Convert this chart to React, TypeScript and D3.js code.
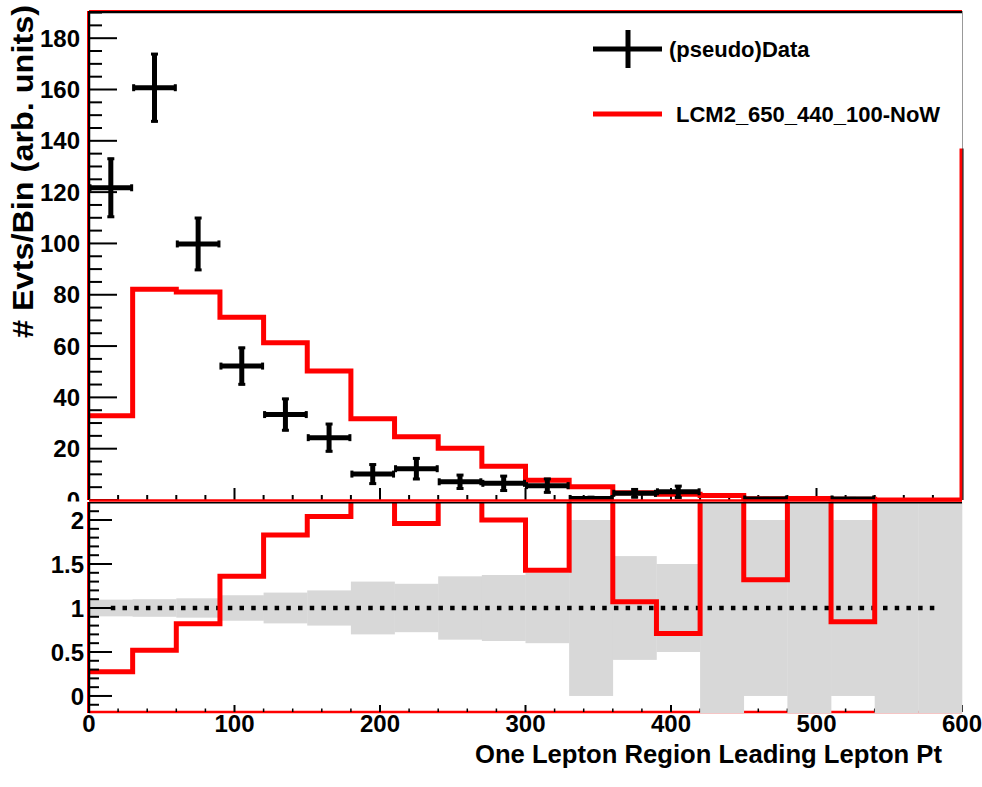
import React from 'react';
import * as d3 from 'd3';

// ---- data ----
const binLow = [0, 30, 60, 90, 120, 150, 180, 210, 240, 270, 300, 330, 360, 390, 420, 450, 480, 510, 540, 570];
const binWidth = 30;
const dataValues: (number | null)[] = [121.7, 160.7, 99.8, 52.2, 33.3, 24.3, 10.1, 12.2, 7.1, 6.5, 5.6, 0.6, 2.6, 3.2, null, 0.4, null, 0.4, null, null];
const dataErrors: (number | null)[] = [11.7, 13.5, 10.5, 7.5, 6.5, 5.7, 4.1, 4.4, 3.0, 3.2, 3.0, 0.9, 1.9, 2.6, null, 0.6, null, 0.6, null, null];
const mcValues = [32.8, 82.1, 81.1, 71.2, 61.3, 50.3, 31.7, 24.7, 20.2, 13.2, 7.7, 5.2, 2.8, 2.2, 1.8, 0.5, 0.6, 0.3, 0, 0];
const ratioValues: (number | null)[] = [0.276, 0.52, 0.82, 1.36, 1.83, 2.04, null, 1.96, null, 2.0, 1.43, null, 1.07, 0.71, null, 1.32, null, 0.845, null, null];
const bandHalf: (number | null)[] = [0.095, 0.1, 0.11, 0.145, 0.175, 0.2, 0.3, 0.275, 0.36, 0.375, 0.4, 1.0, 0.59, 0.5, null, 1.0, null, 1.0, null, null];
const xMajorTicks = [0, 100, 200, 300, 400, 500, 600];
const xMinorTicks = [20, 40, 60, 80, 120, 140, 160, 180, 220, 240, 260, 280, 320, 340, 360, 380, 420, 440, 460, 480, 520, 540, 560, 580];
const topYMajor = [0, 20, 40, 60, 80, 100, 120, 140, 160, 180];
const botYMajor = [0, 0.5, 1, 1.5, 2];
const botYLabels = ['0', '0.5', '1', '1.5', '2'];
const legendLabels = ['(pseudo)Data', 'LCM2_650_440_100-NoW'];
const xTitle = 'One Lepton Region Leading Lepton Pt';
const yTitle = '# Evts/Bin (arb. units)';
const refLine = 1;
const refLineRange = [15, 585];

const FONT = '"Liberation Sans", Arial, Helvetica, sans-serif';
const RED = '#ff0000';

export default function App() {
  const W = 982, H = 787;
  const L = 89, R = 962;
  const topT = 11, topB = 500;
  const botT = 502, botB = 712;

  const x = d3.scaleLinear().domain([0, 600]).range([L, R]);
  const yTop = d3.scaleLinear().domain([0, 190.6]).range([topB, topT]);
  const yBot = d3.scaleLinear().domain([-0.18, 2.19]).range([711.8, 503.3]);

  const topMinor = d3.range(0, 191, 5).filter(v => v % 20 !== 0);
  const botMinor = d3.range(-0.1, 2.15, 0.1).map(v => Math.round(v * 10) / 10).filter(v => Math.abs((v * 2) - Math.round(v * 2)) > 1e-6);

  // MC histogram path
  let mcPath = `M${x(0)},${yTop(mcValues[0])}`;
  binLow.forEach((lo, i) => {
    if (i > 0) mcPath += `V${yTop(mcValues[i])}`;
    mcPath += `H${x(lo + binWidth)}`;
  });

  // ratio path
  const rY = (v: number | null) => (v == null ? yBot(2.35) : yBot(v));
  let ratioPath = `M${x(0)},${rY(ratioValues[0])}`;
  binLow.forEach((lo, i) => {
    if (i > 0) ratioPath += `V${rY(ratioValues[i])}`;
    ratioPath += `H${x(lo + binWidth)}`;
  });

  const cap = 3.5;

  return (
    <svg width={W} height={H} style={{ position: 'absolute', left: 0, top: 0, background: '#fff' }} fontFamily={FONT} fontWeight="bold">
      <defs>
        <clipPath id="botClip">
          <rect x={L} y={botT} width={R - L + 1} height={botB - botT + 1.5} />
        </clipPath>
      </defs>
      <rect x={0} y={0} width={W} height={H} fill="#fff" />

      {/* ---------- TOP PANEL ---------- */}
      {topYMajor.map(v => (
        <line key={'tM' + v} x1={L} x2={L + 28} y1={yTop(v)} y2={yTop(v)} stroke="#000" strokeWidth={2} />
      ))}
      {topMinor.map(v => (
        <line key={'tm' + v} x1={L} x2={L + 13} y1={yTop(v)} y2={yTop(v)} stroke="#000" strokeWidth={2} />
      ))}
      {topYMajor.map(v => (
        <text key={'tl' + v} x={80} y={yTop(v)} dy="0.36em" textAnchor="end" fontSize={24}>{v}</text>
      ))}
      {xMajorTicks.map(v => (
        <line key={'xM' + v} x1={x(v)} x2={x(v)} y1={topB} y2={topB - 12} stroke="#000" strokeWidth={2} />
      ))}
      {xMinorTicks.map(v => (
        <line key={'xm' + v} x1={x(v)} x2={x(v)} y1={topB} y2={topB - 5} stroke="#000" strokeWidth={2} />
      ))}

      {/* MC histogram */}
      <path d={mcPath} fill="none" stroke={RED} strokeWidth={5} strokeLinejoin="miter" />

      {/* data points */}
      {binLow.map((lo, i) => {
        const v = dataValues[i];
        const e = dataErrors[i];
        if (v == null || e == null) return null;
        const cx = x(lo + binWidth / 2);
        const x0 = x(lo), x1 = x(lo + binWidth);
        const cy = yTop(v);
        const yh = yTop(v + e), yl = yTop(Math.max(0, v - e));
        return (
          <g key={'d' + i} stroke="#000">
            <line x1={x0} x2={x1} y1={cy} y2={cy} strokeWidth={5} />
            <line x1={cx} x2={cx} y1={yh} y2={yl} strokeWidth={5} />
            <line x1={x0 + 1} x2={x0 + 1} y1={cy - cap} y2={cy + cap} strokeWidth={3} />
            <line x1={x1 - 1} x2={x1 - 1} y1={cy - cap} y2={cy + cap} strokeWidth={3} />
            <line x1={cx - cap} x2={cx + cap} y1={yh + 1} y2={yh + 1} strokeWidth={3} />
            <line x1={cx - cap} x2={cx + cap} y1={yl - 1} y2={yl - 1} strokeWidth={3} />
          </g>
        );
      })}

      {/* top frame */}
      <line x1={L} x2={R} y1={topT + 1} y2={topT + 1} stroke="#000" strokeWidth={2.5} />
      <line x1={L} x2={R} y1={topT - 0.5} y2={topT - 0.5} stroke={RED} strokeWidth={1} />
      <line x1={L} x2={L} y1={topT} y2={topB} stroke="#000" strokeWidth={2.5} />
      <line x1={L - 1.5} x2={L - 1.5} y1={topT} y2={topB} stroke={RED} strokeWidth={1} />
      <line x1={R + 0.5} x2={R + 0.5} y1={topT} y2={topB} stroke="#999" strokeWidth={1} />
      <line x1={R - 1} x2={R - 1} y1={yTop(137)} y2={topB} stroke={RED} strokeWidth={3} />
      <line x1={R + 1} x2={R + 1} y1={yTop(137)} y2={topB} stroke="#000" strokeWidth={1} />

      {/* legend */}
      <line x1={593} x2={662} y1={49} y2={49} stroke="#000" strokeWidth={5} />
      <line x1={628} x2={628} y1={30} y2={68} stroke="#000" strokeWidth={5} />
      <text x={669} y={49} dy="0.36em" fontSize={22}>{legendLabels[0]}</text>
      <line x1={593} x2={662} y1={114} y2={114} stroke={RED} strokeWidth={5} />
      <text x={676} y={114} dy="0.36em" fontSize={22}>{legendLabels[1]}</text>

      {/* ---------- BOTTOM PANEL ---------- */}
      <rect x={0} y={topB + 1.5} width={W} height={botB - topB + 2} fill="#fff" />
      <line x1={L} x2={R} y1={botB} y2={botB} stroke={RED} strokeWidth={2.5} />
      {xMajorTicks.map(v => (
        <line key={'bxM' + v} x1={x(v)} x2={x(v)} y1={botB} y2={botB - 7} stroke="#000" strokeWidth={2} />
      ))}
      {xMinorTicks.map(v => (
        <line key={'bxm' + v} x1={x(v)} x2={x(v)} y1={botB} y2={botB - 3.5} stroke="#000" strokeWidth={1.5} />
      ))}

      <g clipPath="url(#botClip)">
        {binLow.map((lo, i) => {
          const h = bandHalf[i];
          const yA = h == null ? botT : yBot(refLine + h);
          const yB = h == null ? botB + 1.5 : yBot(refLine - h);
          return <rect key={'b' + i} x={x(lo)} width={x(lo + binWidth) - x(lo) + 0.3} y={yA} height={yB - yA} fill="#d8d8d8" />;
        })}
        <line x1={x(refLineRange[0])} x2={x(refLineRange[1])} y1={yBot(refLine)} y2={yBot(refLine)} stroke="#000" strokeWidth={4.5} strokeDasharray="4.5 7.2" />
        <path d={ratioPath} fill="none" stroke={RED} strokeWidth={5} />
      </g>

      {botYMajor.map(v => (
        <line key={'bM' + v} x1={L} x2={L + 23} y1={yBot(v)} y2={yBot(v)} stroke="#000" strokeWidth={2} />
      ))}
      {botMinor.map(v => (
        <line key={'bm' + v} x1={L} x2={L + 10} y1={yBot(v)} y2={yBot(v)} stroke="#000" strokeWidth={2} />
      ))}
      {botYMajor.map((v, i) => (
        <text key={'bl' + v} x={84} y={yBot(v)} dy="0.36em" textAnchor="end" fontSize={24}>{botYLabels[i]}</text>
      ))}

      {/* bottom frame */}
      <line x1={L} x2={R} y1={topB + 0.5} y2={topB + 0.5} stroke={RED} strokeWidth={2.5} />
      <line x1={L} x2={R} y1={botT + 0.8} y2={botT + 0.8} stroke="#000" strokeWidth={1.5} />
      <line x1={L} x2={L} y1={botT} y2={botB + 1} stroke="#000" strokeWidth={2.5} />
      <line x1={L - 1.5} x2={L - 1.5} y1={botT} y2={botB + 1} stroke={RED} strokeWidth={1} />

      {/* x tick labels */}
      {xMajorTicks.map(v => (
        <text key={'xl' + v} x={x(v)} y={732} textAnchor="middle" fontSize={24}>{v}</text>
      ))}

      {/* axis titles */}
      <text x={942} y={763} textAnchor="end" fontSize={25} textLength={467} lengthAdjust="spacingAndGlyphs">{xTitle}</text>
      <text transform="translate(33,5) rotate(-90)" textAnchor="end" fontSize={29} textLength={333} lengthAdjust="spacingAndGlyphs">{yTitle}</text>
    </svg>
  );
}
